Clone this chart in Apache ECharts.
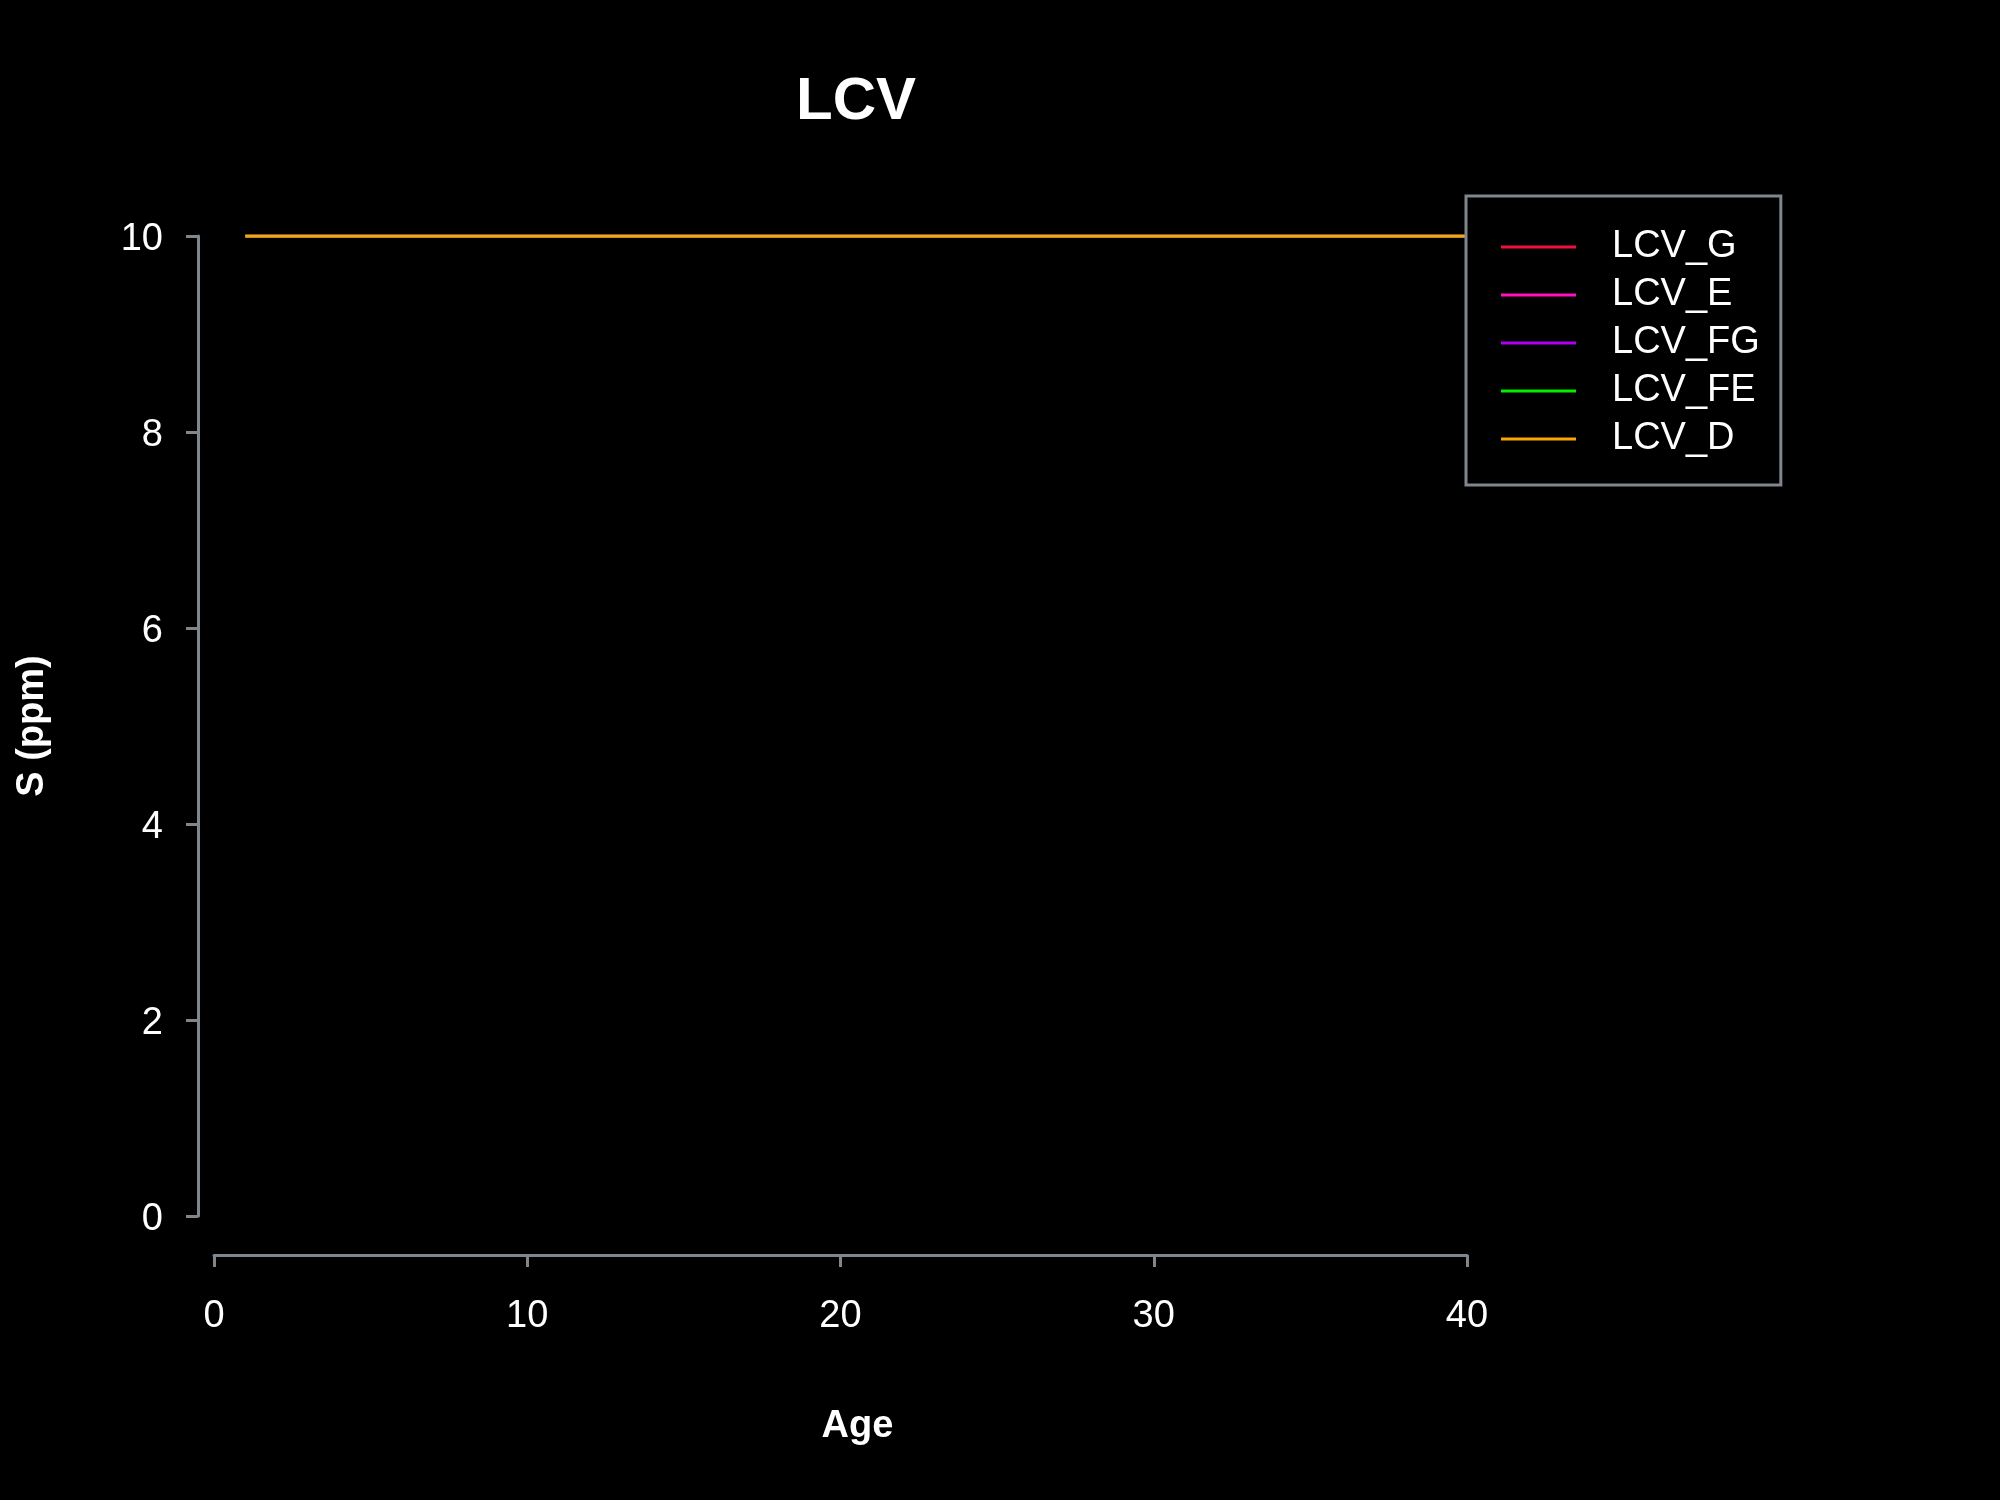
<!DOCTYPE html>
<html>
<head>
<meta charset="utf-8">
<script src="https://cdn.jsdelivr.net/npm/echarts@6/dist/echarts.min.js"></script>
<style>
html,body{margin:0;padding:0;background:#000;}
#chart{width:2000px;height:1500px;}
</style>
</head>
<body>
<div id="chart"></div>
<script>
const ages = [1,2,3,4,5,6,7,8,9,10,11,12,13,14,15,16,17,18,19,20,21,22,23,24,25,26,27,28,29,30,31,32,33,34,35,36,37,38,39,40];
const LCV_G  = [10,10,10,10,10,10,10,10,10,10,10,10,10,10,10,10,10,10,10,10,10,10,10,10,10,10,10,10,10,10,10,10,10,10,10,10,10,10,10,10];
const LCV_E  = [10,10,10,10,10,10,10,10,10,10,10,10,10,10,10,10,10,10,10,10,10,10,10,10,10,10,10,10,10,10,10,10,10,10,10,10,10,10,10,10];
const LCV_FG = [10,10,10,10,10,10,10,10,10,10,10,10,10,10,10,10,10,10,10,10,10,10,10,10,10,10,10,10,10,10,10,10,10,10,10,10,10,10,10,10];
const LCV_FE = [10,10,10,10,10,10,10,10,10,10,10,10,10,10,10,10,10,10,10,10,10,10,10,10,10,10,10,10,10,10,10,10,10,10,10,10,10,10,10,10];
const LCV_D  = [10,10,10,10,10,10,10,10,10,10,10,10,10,10,10,10,10,10,10,10,10,10,10,10,10,10,10,10,10,10,10,10,10,10,10,10,10,10,10,10];
const seriesNames = ['LCV_G','LCV_E','LCV_FG','LCV_FE','LCV_D'];
const seriesValues = [LCV_G, LCV_E, LCV_FG, LCV_FE, LCV_D];
const xTicks = [0,10,20,30,40];
const yTicks = [0,2,4,6,8,10];

const colors = ['#F0103C','#FF10C0','#B000F0','#00F000','#FFA500'];
const FONT = '"Liberation Sans", Arial, sans-serif';
const axisGrey = '#7F868E';

const chart = echarts.init(document.getElementById('chart'), null, {renderer:'canvas'});
const option = {
  backgroundColor: '#000000',
  animation: false,
  title: {
    text: 'LCV',
    left: 796, top: 72, padding: 0,
    textStyle: {color:'#ffffff', fontSize:60, fontWeight:'bold', fontFamily:FONT, lineHeight:60}
  },
  legend: {
    orient: 'vertical',
    left: 1466, top: 196,
    padding: [27, 21, 22, 35],
    itemGap: 0,
    itemWidth: 75,
    itemHeight: 3,
    icon: 'rect',
    borderColor: axisGrey,
    borderWidth: 3,
    borderRadius: 0,
    backgroundColor: '#000000',
    selectedMode: false,
    textStyle: {color:'#ffffff', fontSize:38, fontFamily:FONT, lineHeight:48, padding:[0,0,0,31]},
    data: seriesNames
  },
  grid: {left:214, right:533, top:236, bottom:284, containLabel:false},
  xAxis: {
    type:'value', min:xTicks[0], max:xTicks[xTicks.length-1], interval:10,
    offset: 39,
    name:'Age', nameLocation:'middle', nameGap:153,
    nameTextStyle:{color:'#ffffff', fontSize:38, fontWeight:'bold', fontFamily:FONT, padding:[0,0,0,34]},
    axisLine:{show:true, onZero:false, lineStyle:{color:axisGrey, width:3}},
    axisTick:{show:true, length:12, lineStyle:{color:axisGrey, width:3}},
    axisLabel:{color:'#ffffff', fontSize:38, fontFamily:FONT, margin:43},
    splitLine:{show:false}
  },
  yAxis: {
    type:'value', min:yTicks[0], max:yTicks[yTicks.length-1], interval:2,
    offset: 16,
    name:'S (ppm)', nameLocation:'middle', nameGap:146, nameRotate:90,
    nameTextStyle:{color:'#ffffff', fontSize:38, fontWeight:'bold', fontFamily:FONT},
    axisLine:{show:true, onZero:false, lineStyle:{color:axisGrey, width:3}},
    axisTick:{show:true, length:12, lineStyle:{color:axisGrey, width:3}},
    axisLabel:{
      color:'#ffffff', fontSize:38, fontFamily:FONT, margin:35,
      formatter: '{v|{value}}',
      rich: {v: {color:'#ffffff', fontSize:38, fontFamily:FONT, lineHeight:38, padding:[8,0,0,0]}}
    },
    splitLine:{show:false}
  },
  series: seriesNames.map((n,i)=>({
    name:n, type:'line',
    data: ages.map((a,j)=>[a, seriesValues[i][j]]),
    showSymbol:false, symbol:'none',
    color: colors[i],
    lineStyle:{color:colors[i], width:3},
    itemStyle:{color:colors[i]},
    emphasis:{disabled:true}
  }))
};
chart.setOption(option);
</script>
</body>
</html>
